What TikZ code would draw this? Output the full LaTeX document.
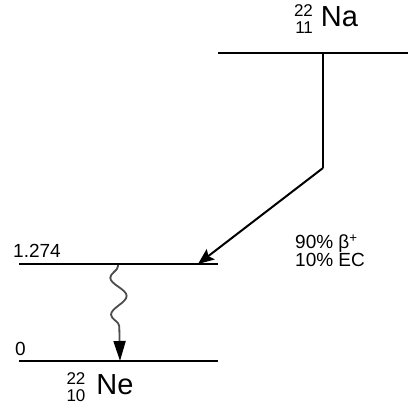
\documentclass[tikz,border=0pt]{standalone}
\usepackage{fontspec}
\setmainfont{Liberation Sans}
\usetikzlibrary{
    arrows.meta,
    decorations.pathmorphing
}
\tikzset{
  level/.style  = {line width=2pt},
  decay/.style  = {line width=2pt, -{Stealth[length=16pt, width=13pt, inset=3pt]}},
  gammaray/.style = {draw=black!70, line width=1.8pt, decorate,
                    decoration={snake, mirror, segment length=37pt, amplitude=8pt,
                                pre length=1pt, post length=22pt},
                    -{Triangle[length=20pt, width=12pt, color=black]}},
  lbl/.style    = {font=\fontsize{19}{18}\selectfont, inner sep=0pt}
}
\newcommand\nuclide[4][6pt]{%
  {\fontsize{17}{17}\selectfont\begin{tabular}{@{}r@{}}#2\\#3\end{tabular}}%
  \hspace{#1}{\fontsize{29}{31}\selectfont #4}}

\begin{document}
\begin{tikzpicture}[x=1pt, y=-1pt]
\useasboundingbox (0,0) rectangle (408,417);
% Na ground state
\coordinate (naL) at (218,53);
\coordinate (naR) at (408,53);
\coordinate (naD) at (323,53);
\coordinate (bend) at (323,168);
\draw[level] (naL) -- (naR);
\node[lbl] (na) at (326,22) {\nuclide[8pt]{22}{11}{Na}};
% Ne levels
\coordinate (exL) at (19,264);
\coordinate (exR) at (218,264);
\coordinate (gsL) at (19,361);
\coordinate (gsR) at (218,361);
\coordinate (exT) at (198,264);
\coordinate (gamTop) at (118,265);
\coordinate (gamBot) at (120,361);
\draw[level] (exL) -- (exR);
\draw[level] (gsL) -- (gsR);
\node[lbl, anchor=base west] (ex) at (13,257) {1.274};
\node[lbl, anchor=base west] (gs) at (15,355) {0};
\node[lbl] (ne) at (100,390) {\nuclide[11pt]{22}{10}{Ne}};
% decay
\draw[line width=2pt] (naD) -- (bend);
\draw[decay] (bend) -- (exT);
\node[lbl, anchor=west, align=left] (br) at (295,251)
  {90\% β\textsuperscript{+}\\10\% EC};
\draw[gammaray] (gamTop) -- (gamBot);
\end{tikzpicture}
\end{document}
